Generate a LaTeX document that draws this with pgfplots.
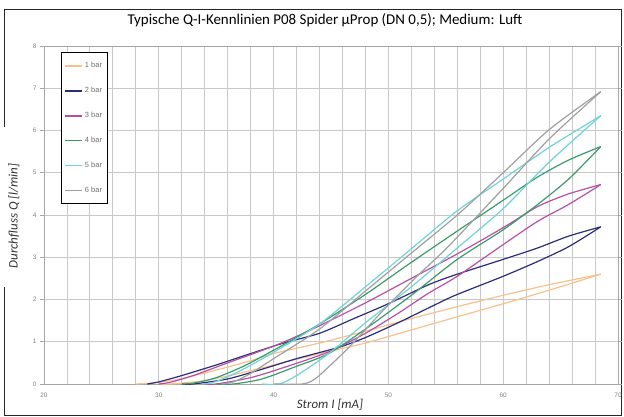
\documentclass[border=0pt]{standalone}
\usepackage{pgfplots}
\pgfplotsset{compat=1.18}
\usepackage{fontspec}
\setmainfont{Carlito}
\newfontfamily\arialfont{Liberation Sans}

\definecolor{bar1}{HTML}{F8C08A}
\definecolor{bar2}{HTML}{2B2D7C}
\definecolor{bar3}{HTML}{B84FA6}
\definecolor{bar4}{HTML}{3E9A6B}
\definecolor{bar5}{HTML}{6ED3DA}
\definecolor{bar6}{HTML}{A0A0A0}
\definecolor{gridc}{HTML}{C8C8C8}
\definecolor{legtext}{HTML}{6E6E6E}

\begin{document}
\begin{tikzpicture}
\useasboundingbox (-44bp,-33bp) rectangle (580bp,384bp);
% outer frame, left side open where the y label sits
\draw[line width=1bp, black!85] (-39bp,97bp) -- (-39bp,-31.5bp) -- (577bp,-31.5bp)
  -- (577bp,374bp) -- (-39bp,374bp) -- (-39bp,257bp);
\node[font=\fontsize{15}{18}\selectfont] at (281bp,364bp)
  {Typische Q-I-Kennlinien P08 Spider µProp (DN 0,5); Medium: Luft};
\begin{axis}[
  at={(0,0)}, anchor=south west,
  scale only axis, width=574bp, height=338bp,
  xmin=20, xmax=70, ymin=0, ymax=8,
  xtick={20,30,...,70}, ytick={0,1,...,8},
  minor x tick num=4,
  grid=both,
  major grid style={draw=gridc, line width=0.9bp},
  minor grid style={draw=gridc, line width=0.9bp},
  axis line style={draw=gray!70, line width=0.9bp},
  tick align=outside,
  major tick length=4bp, minor tick length=0pt,
  xtick style={draw=none},
  ytick style={draw=gray!70, line width=0.8bp},
  /pgf/number format/assume math mode=true,
  ticklabel style={font=\arialfont\fontsize{6.5}{7}\selectfont, text=gray},
  xticklabel style={yshift=-1bp},
  xlabel={Strom I [mA]},
  ylabel={Durchfluss Q [l/min]},
  label style={font=\itshape\fontsize{13}{15}\selectfont, text=black!80},
  xlabel style={at={(axis description cs:0.4983,-0.062)}, anchor=center},
  ylabel style={at={(axis description cs:-0.0525,0.497)}, anchor=center},
  legend style={at={(0.0296,0.982)}, anchor=north west,
    draw=black, line width=0.8bp, fill=white,
    font=\arialfont\fontsize{7.5}{8}\selectfont,
    row sep=14bp, inner xsep=3bp, inner ysep=8bp},
  legend cell align=left,
  legend image code/.code={\draw[#1, line width=1.6bp, smooth=false] (0bp,0bp) -- (17bp,0bp);},
  every axis plot/.append style={line width=1.2bp, line join=round, smooth, tension=0.45},
]
% 1 bar: rising current, then falling current
\addplot[draw=bar1] coordinates {
 (30,0) (31,0) (34,0.08) (37,0.25) (40,0.45) (44,0.72) (48,0.97) (52,1.28)
 (56,1.59) (60,1.9) (64,2.22) (68.5,2.6)
};
\addlegendentry{\textcolor{legtext}{1 bar}}
\addplot[draw=bar1, forget plot] coordinates {
 (68.5,2.6) (64,2.35) (60,2.1) (56,1.83) (52,1.55) (48,1.25) (44,0.97) (40,0.72)
 (38,0.55) (35,0.33) (32,0.13) (30,0.04) (28,0)
};
% 2 bar
\addplot[draw=bar2] coordinates {
 (32,0) (33,0) (36,0.12) (39,0.35) (42,0.6) (45.7,0.87) (48,1.1) (51,1.47)
 (54.4,1.92) (56,2.12) (60,2.55) (63,2.9) (65.7,3.25) (68.5,3.72)
};
\addlegendentry{\textcolor{legtext}{2 bar}}
\addplot[draw=bar2, forget plot] coordinates {
 (68.5,3.72) (65.7,3.5) (63,3.22) (60,2.95) (56,2.6) (53.5,2.35) (50,1.9) (47,1.55)
 (44,1.2) (41,0.98) (38,0.72) (35,0.45) (32,0.2) (30,0.05) (29,0)
};
% 3 bar
\addplot[draw=bar3] coordinates {
 (34,0) (35,0) (38,0.15) (41,0.4) (44.8,0.76) (48,1.2) (51,1.7) (53.5,2.15)
 (56,2.55) (60,3.3) (63,3.85) (65.7,4.25) (68.5,4.72)
};
\addlegendentry{\textcolor{legtext}{3 bar}}
\addplot[draw=bar3, forget plot] coordinates {
 (68.5,4.72) (65.7,4.5) (63,4.2) (60,3.7) (56,3.08) (52,2.5) (48,1.92) (44,1.38)
 (40.5,0.95) (36,0.5) (33,0.2) (31,0.04) (30,0)
};
% 4 bar
\addplot[draw=bar4] coordinates {
 (35,0) (36.5,0) (39,0.12) (42,0.42) (44.8,0.72) (48,1.3) (52,2.1) (56,2.95)
 (60,3.65) (63,4.25) (65.7,4.85) (68.5,5.62)
};
\addlegendentry{\textcolor{legtext}{4 bar}}
\addplot[draw=bar4, forget plot] coordinates {
 (68.5,5.62) (65.7,5.3) (63,4.9) (60,4.35) (56,3.62) (52,2.88) (48,2.12) (44,1.42)
 (41,0.95) (37.6,0.45) (35,0.15) (33,0.02) (32,0)
};
% 5 bar
\addplot[draw=bar5] coordinates {
 (39,0) (40.5,0) (42,0.2) (44.8,0.72) (48,1.45) (52,2.3) (56,3.22) (60,4.15)
 (64,5.25) (68.5,6.35)
};
\addlegendentry{\textcolor{legtext}{5 bar}}
\addplot[draw=bar5, forget plot] coordinates {
 (68.5,6.35) (64,5.6) (60,4.85) (56,4.1) (52,3.2) (48,2.3) (44,1.42) (40,0.75)
 (37,0.3) (35,0.06) (34,0)
};
% 6 bar
\addplot[draw=bar6] coordinates {
 (40,0) (42.5,0) (43.5,0.1) (44.5,0.33) (46.6,0.88) (49.4,1.7) (52.3,2.5)
 (55.2,3.25) (59.9,4.6) (64,5.8) (68.5,6.92)
};
\addlegendentry{\textcolor{legtext}{6 bar}}
\addplot[draw=bar6, forget plot] coordinates {
 (68.5,6.92) (64,6.02) (60,5.0) (56,4.0) (52,3.1) (48,2.2) (44,1.3) (40,0.6)
 (38,0.25) (36.5,0.05) (35.5,0)
};
\end{axis}
\end{tikzpicture}
\end{document}
